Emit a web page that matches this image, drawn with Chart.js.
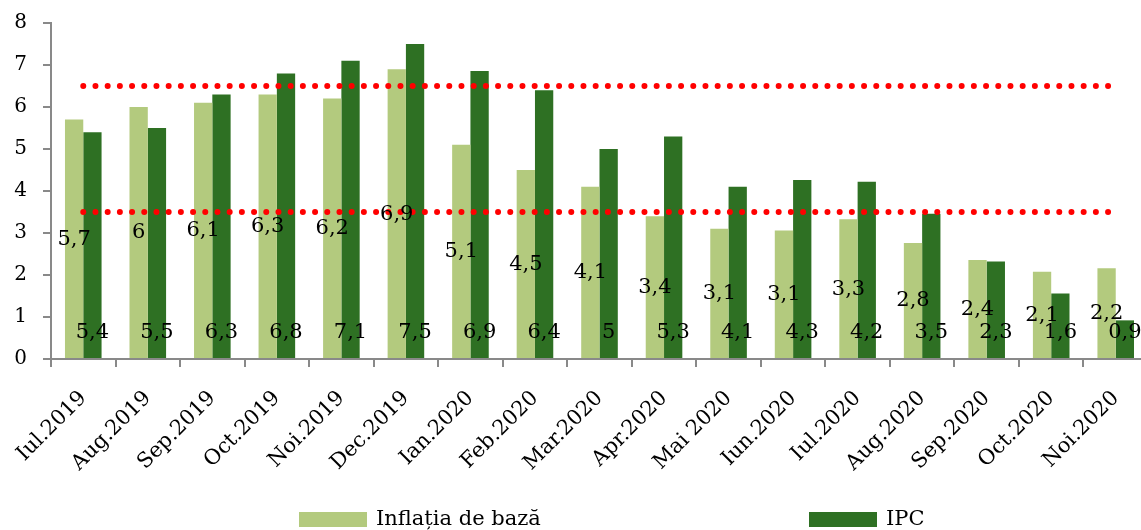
<!DOCTYPE html>
<html>
<head>
<meta charset="utf-8">
<script src="https://cdn.jsdelivr.net/npm/chart.js@4.4.1/dist/chart.umd.min.js"></script>
<style>
  html, body { margin: 0; padding: 0; background: #fff; overflow: hidden; }
  #wrap { position: relative; width: 1141px; height: 530px; overflow: hidden; }
  canvas { position: absolute; left: 0; top: 0; }
  .leg { position: absolute; top: 503px; height: 30px; display: flex; align-items: center;
         font-family: "DejaVu Serif", serif; font-size: 21px; color: #000; white-space: nowrap; }
  .leg span.box { display: inline-block; width: 68px; height: 15px; margin-right: 9px; margin-top: 2px; }
</style>
</head>
<body>
<div id="wrap">
  <canvas id="c" width="1152" height="530"></canvas>
  <div class="leg" style="left:299px"><span class="box" style="background:#b3ca7e"></span><span id="l1"></span></div>
  <div class="leg" style="left:809px"><span class="box" style="background:#2e7023"></span><span id="l2"></span></div>
</div>
<script>
const categories = ['Iul.2019','Aug.2019','Sep.2019','Oct.2019','Noi.2019','Dec.2019','Ian.2020','Feb.2020','Mar.2020','Apr.2020','Mai 2020','Iun.2020','Iul.2020','Aug.2020','Sep.2020','Oct.2020','Noi.2020'];
const coreInflation = [5.7, 6.0, 6.1, 6.3, 6.2, 6.9, 5.1, 4.5, 4.1, 3.4, 3.1, 3.06, 3.33, 2.76, 2.36, 2.08, 2.16];
const cpi = [5.4, 5.5, 6.3, 6.8, 7.1, 7.5, 6.86, 6.4, 5.0, 5.3, 4.1, 4.26, 4.22, 3.46, 2.32, 1.56, 0.92];
const upperBand = [6.5, 6.5, 6.5, 6.5, 6.5, 6.5, 6.5, 6.5, 6.5, 6.5, 6.5, 6.5, 6.5, 6.5, 6.5, 6.5, 6.5];
const lowerBand = [3.5, 3.5, 3.5, 3.5, 3.5, 3.5, 3.5, 3.5, 3.5, 3.5, 3.5, 3.5, 3.5, 3.5, 3.5, 3.5, 3.5];
const seriesNames = ['Inflația de bază', 'IPC'];
const yTicks = [0, 1, 2, 3, 4, 5, 6, 7, 8];

document.getElementById('l1').textContent = seriesNames[0];
document.getElementById('l2').textContent = seriesNames[1];

const fmt = v => String(Number(v.toFixed(1))).replace('.', ',');

const labelPlugin = {
  id: 'valueLabels',
  afterDatasetsDraw(chart) {
    const ctx = chart.ctx;
    const ys = chart.scales.y;
    ctx.save();
    ctx.font = '21px "DejaVu Serif"';
    ctx.fillStyle = '#000';
    ctx.textAlign = 'center';
    ctx.textBaseline = 'middle';
    const m0 = chart.getDatasetMeta(0);
    m0.data.forEach((bar, i) => {
      const v = coreInflation[i];
      ctx.fillText(fmt(v), bar.x, ys.getPixelForValue(v / 2));
    });
    const m1 = chart.getDatasetMeta(1);
    const base = ys.getPixelForValue(0);
    m1.data.forEach((bar, i) => {
      ctx.fillText(fmt(cpi[i]), bar.x, base - 26);
    });
    ctx.restore();
  }
};

new Chart(document.getElementById('c'), {
  data: {
    labels: categories,
    datasets: [
      { type: 'bar', label: seriesNames[0], data: coreInflation, backgroundColor: '#b3ca7e', order: 2,
        categoryPercentage: 0.567, barPercentage: 1.0 },
      { type: 'bar', label: seriesNames[1], data: cpi, backgroundColor: '#2e7023', order: 2,
        categoryPercentage: 0.567, barPercentage: 1.0 },
      { type: 'line', label: 'upper', data: upperBand, borderColor: '#ff0000', borderWidth: 6,
        borderDash: [0, 12.2], borderCapStyle: 'round', pointRadius: 0, fill: false, order: 0 },
      { type: 'line', label: 'lower', data: lowerBand, borderColor: '#ff0000', borderWidth: 6,
        borderDash: [0, 12.2], borderCapStyle: 'round', pointRadius: 0, fill: false, order: 0 }
    ]
  },
  options: {
    responsive: false,
    devicePixelRatio: 1,
    animation: false,
    layout: { padding: { left: 0, right: 4, top: 23, bottom: 51 } },
    plugins: { legend: { display: false }, tooltip: { enabled: false } },
    scales: {
      x: {
        offset: true,
        afterFit: s => { s.height = 120; s.paddingLeft = 0; s.paddingRight = 0; },
        grid: { offset: true, drawOnChartArea: false, drawTicks: true, tickLength: 8, color: '#898989', lineWidth: 2 },
        border: { color: '#898989', width: 2 },
        ticks: { color: '#000', font: { family: 'DejaVu Serif', size: 21 }, minRotation: 45, maxRotation: 45, padding: 19, autoSkip: false }
      },
      y: {
        min: 0, max: 8,
        afterBuildTicks: axis => { axis.ticks = yTicks.map(v => ({ value: v })); },
        afterFit: s => { s.width = 51; s.paddingTop = 0; s.paddingBottom = 0; },
        grid: { drawOnChartArea: false, drawTicks: true, tickLength: 8, color: '#898989', lineWidth: 2 },
        border: { color: '#898989', width: 2 },
        ticks: { color: '#000', font: { family: 'DejaVu Serif', size: 20 }, padding: 16 }
      }
    }
  },
  plugins: [labelPlugin]
});
</script>
</body>
</html>
